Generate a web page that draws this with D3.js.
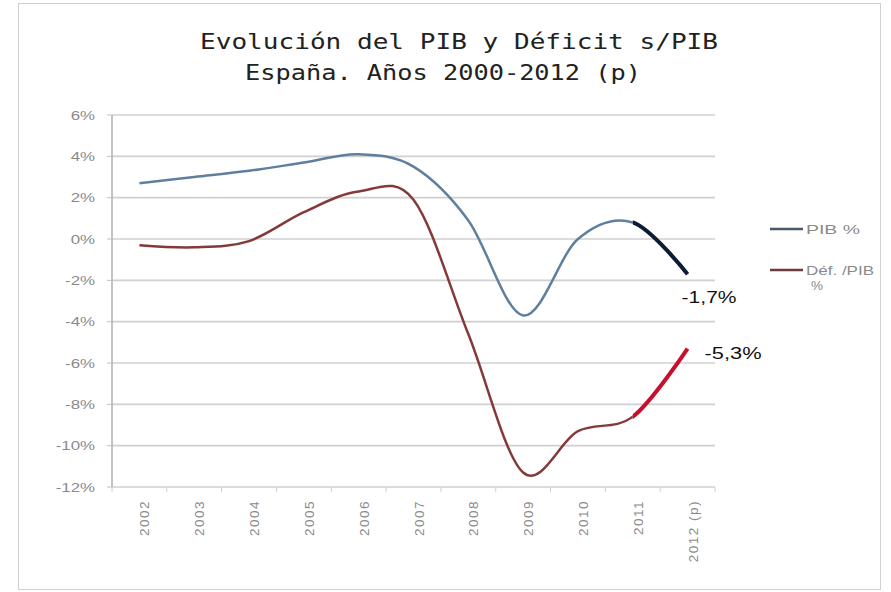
<!DOCTYPE html>
<html><head><meta charset="utf-8">
<script src="https://cdn.jsdelivr.net/npm/d3@7"></script>
<style>body{margin:0;background:#fff}</style>
</head><body>
<svg id="c" width="891" height="592"></svg>
<script>
const years = ["2002","2003","2004","2005","2006","2007","2008","2009","2010","2011","2012 (p)"];
const pib = [2.7, 3.0, 3.3, 3.7, 4.1, 3.5, 0.9, -3.7, 0.0, 0.8, -1.7];
const deficit = [-0.3, -0.4, -0.1, 1.3, 2.3, 1.9, -4.6, -11.3, -9.3, -8.6, -5.3];
const yTicks = [6, 4, 2, 0, -2, -4, -6, -8, -10, -12];
const seriesNames = ["PIB %", "Déf. /PIB", "%"];
const endLabels = ["-1,7%", "-5,3%"];

const FONT = "Liberation Sans, Arial, sans-serif";
const svg = d3.select("#c");
svg.append("rect").attr("x",18.5).attr("y",3.5).attr("width",862).attr("height",586)
  .attr("fill","#fff").attr("stroke","#d0d0d0");

const L=112, R=715, T=115, B=487;
const x = d3.scaleBand().domain(years).range([L,R]);
const y = d3.scaleLinear().domain([-12,6]).range([B,T]);
const cx = d => x(d)+x.bandwidth()/2;

svg.append("g").selectAll("line").data(yTicks).join("line")
  .attr("x1",L).attr("x2",R).attr("y1",d=>y(d)).attr("y2",d=>y(d))
  .attr("stroke","#d0d0d0").attr("stroke-width",1.6);
svg.append("line").attr("x1",L).attr("x2",L).attr("y1",T).attr("y2",B).attr("stroke","#b4b4b4").attr("stroke-width",1.6);
svg.append("g").selectAll("line").data(yTicks).join("line")
  .attr("x1",L-5).attr("x2",L).attr("y1",d=>y(d)).attr("y2",d=>y(d)).attr("stroke","#c0c0c0");
svg.append("g").selectAll("text").data(yTicks).join("text")
  .attr("transform",d=>`translate(95,${y(d)+4.5}) scale(1.35,1)`).attr("text-anchor","end")
  .attr("font-family",FONT).attr("font-size",12.5).attr("fill","#8a8a8a")
  .text(d=>d+"%");

// x axis ticks and labels
svg.append("g").selectAll("line").data(years.concat(["end"])).join("line")
  .attr("x1",(d,i)=>L+i*x.step()).attr("x2",(d,i)=>L+i*x.step()).attr("y1",B).attr("y2",B+5).attr("stroke","#d0d0d0");
svg.append("g").selectAll("text").data(years).join("text")
  .attr("transform",d=>`translate(${cx(d)+10},${B+13}) rotate(-90)`)
  .attr("text-anchor","end").attr("letter-spacing",1.5)
  .attr("font-family",FONT).attr("font-size",13.5).attr("fill","#8a8a8a")
  .text(d=>d);

const line = d3.line().x((d,i)=>cx(years[i])).y(d=>y(d)).curve(d3.curveCatmullRom.alpha(0));
const defs = svg.append("defs");
defs.append("clipPath").attr("id","last").append("rect")
  .attr("x",cx(years[9])).attr("y",0).attr("width",R-cx(years[9])).attr("height",592);
defs.append("clipPath").attr("id","first").append("rect")
  .attr("x",0).attr("y",0).attr("width",cx(years[9])).attr("height",592);

svg.append("path").attr("d",line(pib)).attr("fill","none").attr("stroke","#5f7f9f").attr("stroke-width",2.5).attr("clip-path","url(#first)");
svg.append("path").attr("d",line(pib)).attr("fill","none").attr("stroke","#0e1b36").attr("stroke-width",4).attr("clip-path","url(#last)");
svg.append("path").attr("d",line(deficit)).attr("fill","none").attr("stroke","#843a3a").attr("stroke-width",2.5).attr("clip-path","url(#first)");
svg.append("path").attr("d",line(deficit)).attr("fill","none").attr("stroke","#c8102e").attr("stroke-width",4).attr("clip-path","url(#last)");

// end labels
svg.append("text").attr("x",cx(years[10])-6).attr("y",y(pib[10])+29)
  .attr("textLength",55).attr("lengthAdjust","spacingAndGlyphs")
  .attr("font-family",FONT).attr("font-size",16).attr("fill","#111").text(endLabels[0]);
svg.append("text").attr("x",cx(years[10])+17).attr("y",y(deficit[10])+10)
  .attr("textLength",57).attr("lengthAdjust","spacingAndGlyphs")
  .attr("font-family",FONT).attr("font-size",16).attr("fill","#111").text(endLabels[1]);

// title
svg.append("text").attr("x",200).attr("y",49)
  .attr("textLength",518).attr("lengthAdjust","spacingAndGlyphs")
  .attr("font-family","DejaVu Sans Mono, monospace").attr("font-size",21).attr("fill","#222")
  .text("Evolución del PIB y Déficit s/PIB");
svg.append("text").attr("x",245).attr("y",80)
  .attr("textLength",396).attr("lengthAdjust","spacingAndGlyphs")
  .attr("font-family","DejaVu Sans Mono, monospace").attr("font-size",21).attr("fill","#222")
  .text("España. Años 2000-2012 (p)");

// legend
const lg = svg.append("g");
lg.append("line").attr("x1",770).attr("x2",803).attr("y1",229).attr("y2",229).attr("stroke","#4a5868").attr("stroke-width",2.5);
lg.append("text").attr("x",806).attr("y",233.5).attr("textLength",54).attr("lengthAdjust","spacingAndGlyphs")
  .attr("font-family",FONT).attr("font-size",12).attr("fill","#8a8a8a").text(seriesNames[0]);
lg.append("line").attr("x1",770).attr("x2",803).attr("y1",270).attr("y2",270).attr("stroke","#6e3a3a").attr("stroke-width",2.5);
lg.append("text").attr("x",806).attr("y",274.5).attr("textLength",68).attr("lengthAdjust","spacingAndGlyphs")
  .attr("font-family",FONT).attr("font-size",12).attr("fill","#8a8a8a").text(seriesNames[1]);
lg.append("text").attr("x",811).attr("y",290).attr("textLength",12).attr("lengthAdjust","spacingAndGlyphs")
  .attr("font-family",FONT).attr("font-size",12).attr("fill","#8a8a8a").text(seriesNames[2]);
</script>
</body></html>
